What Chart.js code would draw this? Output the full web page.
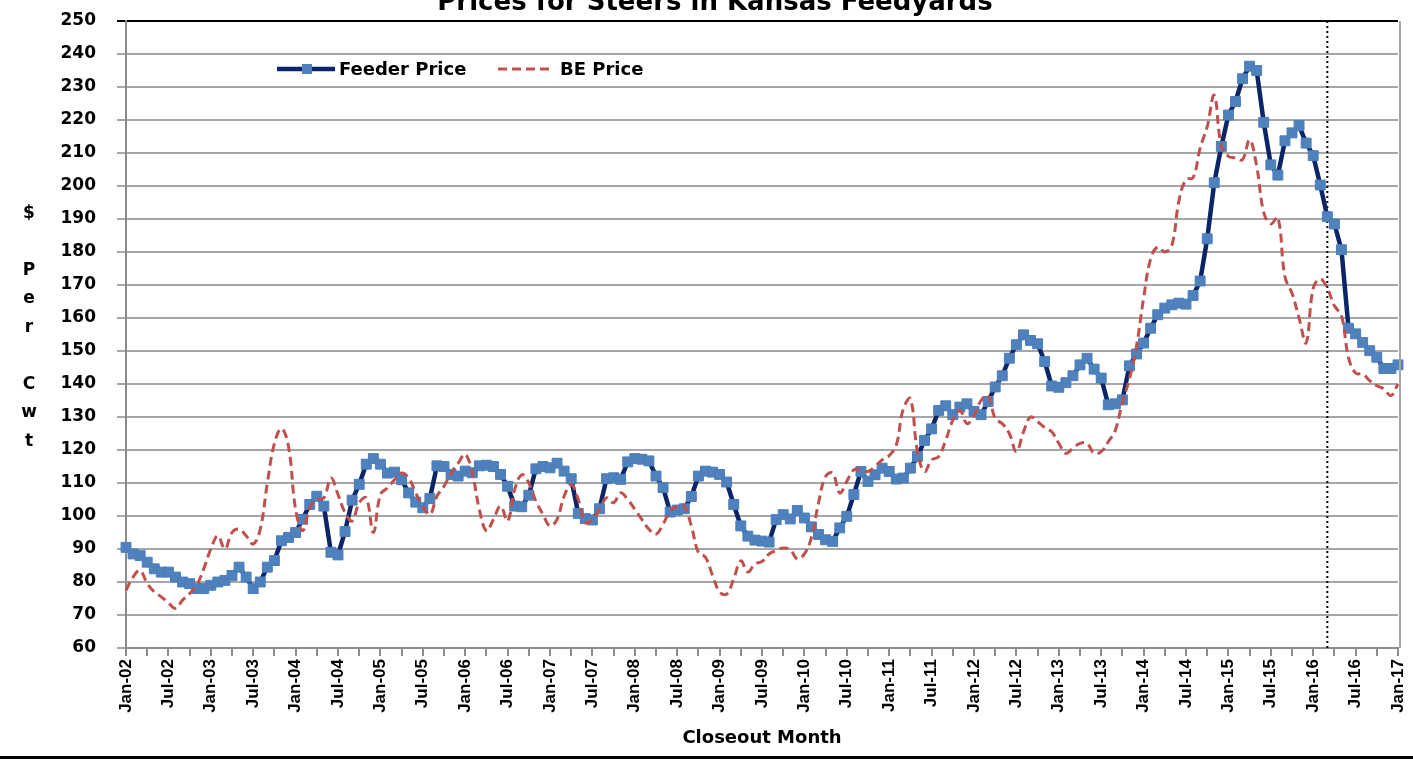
<!DOCTYPE html>
<html>
<head>
<meta charset="utf-8">
<title>Prices for Steers in Kansas Feedyards</title>
<script src="https://cdn.jsdelivr.net/npm/chart.js@4.4.0/dist/chart.umd.min.js"></script>
<style>
    html, body { margin: 0; padding: 0; background: #fff; }
    #wrap { width: 1413px; height: 761px; }
</style>
</head>
<body>
<div id="wrap"><canvas id="steers-chart" width="1413" height="761"></canvas></div>
<script>
// months on the x axis: Jan-02 .. Jan-17
const monthNames = ['Jan', 'Feb', 'Mar', 'Apr', 'May', 'Jun', 'Jul', 'Aug', 'Sep', 'Oct', 'Nov', 'Dec'];
const firstYear = 2002;

// Feeder price, $/cwt, one value per month
const feederPrice = [
    90.5, 88.5, 88, 86, 84, 83, 83, 81.5, 80, 79.5, 78, 78,                     // 2002
    79, 80, 80.5, 82, 84.5, 81.5, 78, 80, 84.5, 86.5, 92.5, 93.5,               // 2003
    95, 99, 103.5, 106, 103, 89, 88.2, 95.3, 104.8, 109.6, 115.7, 117.4,        // 2004
    115.7, 113, 113.3, 111, 107, 104.2, 102.5, 105.3, 115.2, 115, 112.6, 112.1, // 2005
    113.6, 113.1, 115.2, 115.4, 115, 112.6, 109, 103, 102.8, 106.3, 114.3, 115, // 2006
    114.6, 116, 113.6, 111.3, 100.8, 99.2, 98.8, 102.2, 111.3, 111.6, 111.1, 116.4, // 2007
    117.4, 117.2, 116.7, 112.1, 108.6, 101.2, 101.8, 102.2, 105.9, 112.1, 113.6, 113.3, // 2008
    112.6, 110.3, 103.5, 97, 93.9, 92.7, 92.4, 92.1, 98.9, 100.4, 99.1, 101.7,  // 2009
    99.4, 96.7, 94.4, 92.8, 92.3, 96.4, 99.9, 106.5, 113.5, 110.5, 112.5, 114.5, // 2010
    113.5, 111.2, 111.5, 114.5, 118, 122.9, 126.4, 132, 133.4, 130.7, 133, 134, // 2011
    131.7, 130.7, 134.7, 139.1, 142.5, 147.8, 151.9, 154.9, 153.2, 152.2, 146.8, 139.4, // 2012
    139, 140.4, 142.5, 145.8, 147.8, 144.5, 141.8, 133.7, 134, 135.2, 145.5, 149.1, // 2013
    152.4, 156.9, 161, 163, 164, 164.5, 164.2, 166.8, 171.2, 184, 201, 212,     // 2014
    221.5, 225.6, 232.5, 236.3, 235, 219.3, 206.4, 203.3, 213.7, 216.1, 218.3, 213, // 2015
    209.2, 200.3, 190.7, 188.5, 180.7, 156.9, 155.2, 152.6, 150.1, 148.1, 144.7, 144.7, // 2016
    145.8                                                                       // 2017
];

// breakeven price, $/cwt
const bePrice = [
    77.5, 81.5, 83.5, 79.5, 77, 75.5, 73.7, 72, 74.5, 76.5, 79, 84,             // 2002
    90, 94, 90, 95, 96, 94, 91.5, 96, 110, 122, 126.5, 121,                     // 2003
    102, 95.5, 102.5, 105, 105.5, 111.5, 106.5, 101, 98.5, 104, 105.5, 95,      // 2004
    106.5, 108.5, 111, 113, 111.5, 107, 103, 100.5, 106, 109, 113, 116,         // 2005
    118.7, 113, 102, 95.5, 99, 103, 98.5, 108, 112.5, 110, 104.5, 100.5,        // 2006
    97, 99, 106, 109.5, 105, 98, 99, 102, 105.5, 104, 107, 105,                 // 2007
    102, 99, 96, 94.5, 97.5, 101.5, 103, 103, 97, 89, 87.5, 82,                 // 2008
    77, 76.3, 81, 86.4, 83, 85.5, 86.2, 88.5, 89.5, 90.3, 89.8, 87,             // 2009
    88.5, 93.5, 104, 112, 113, 107, 110.5, 114, 114, 113.5, 115, 117,           // 2010
    118.3, 121.5, 132.5, 135.5, 119.5, 113.5, 117, 118, 123, 129, 132, 128,     // 2011
    130.5, 135, 136.5, 129.5, 128, 125, 119.5, 125.5, 130, 128.6, 126.8, 125.5, // 2012
    122, 119, 120.5, 122, 122, 119, 119.5, 122.5, 126, 134.5, 141.6, 151.5,     // 2013
    166, 178, 181.5, 180, 182, 195.5, 202, 202.5, 211.5, 218, 227.5, 212,       // 2014
    209, 208.5, 208, 214, 206, 192, 188.5, 190.5, 172.5, 167.5, 160, 152.5,     // 2015
    169, 171.8, 169, 163.7, 160.7, 148, 143.3, 143, 141, 139.5, 138.5, 136.5,   // 2016
    140                                                                         // 2017
];

const yMin = 60;
const yMax = 250;
const yStep = 10;
const markerMonth = 'Mar-16';   // dotted vertical line
const yTitleLetters = ['$', '', 'P', 'e', 'r', '', 'C', 'w', 't'];

// build Jan-02 style labels
const monthLabels = [];
for (let i = 0; i < feederPrice.length; i++) {
    let yy = String((firstYear + Math.floor(i / 12)) % 100).padStart(2, '0');
    monthLabels.push(monthNames[i % 12] + '-' + yy);
}

const boldFont = '"DejaVu Sans", Verdana, sans-serif';

// title, stacked y title, legend inside plot, dotted marker line, borders
const decorPlugin = {
    id: 'decor',
    beforeDatasetsDraw(chart) {
        const { ctx, chartArea } = chart;
        let x = chart.scales.x.getPixelForValue(monthLabels.indexOf(markerMonth));
        ctx.save();
        ctx.strokeStyle = '#000';
        ctx.lineWidth = 2;
        ctx.setLineDash([2, 3]);
        ctx.beginPath();
        ctx.moveTo(x, chartArea.top);
        ctx.lineTo(x, chartArea.bottom);
        ctx.stroke();
        ctx.restore();
    },
    afterDraw(chart) {
        const { ctx, chartArea } = chart;
        ctx.save();

        // right border of plot
        ctx.strokeStyle = '#a6a6a6';
        ctx.lineWidth = 2;
        ctx.beginPath();
        ctx.moveTo(chartArea.right + 2, chartArea.top);
        ctx.lineTo(chartArea.right + 2, chartArea.bottom);
        ctx.stroke();

        // chart title (cut off by the top edge, like the original)
        ctx.fillStyle = '#000';
        ctx.font = 'bold 26px ' + boldFont;
        ctx.textAlign = 'center';
        ctx.textBaseline = 'alphabetic';
        ctx.fillText('Prices for Steers in Kansas Feedyards', 715, 10);

        // y axis title, one letter per line
        ctx.font = 'bold 17px ' + boldFont;
        ctx.textBaseline = 'middle';
        let mid = (chartArea.top + chartArea.bottom) / 2 - 7;
        let lh = 28.5;
        yTitleLetters.forEach((ch, i) => {
            ctx.fillText(ch, 29, mid + (i - (yTitleLetters.length - 1) / 2) * lh);
        });

        // legend
        let ly = chartArea.top + 48;
        let lx = chartArea.left - 2;
        ctx.strokeStyle = '#0b2566';
        ctx.lineWidth = 4.5;
        ctx.beginPath();
        ctx.moveTo(lx + 153, ly);
        ctx.lineTo(lx + 211, ly);
        ctx.stroke();
        ctx.fillStyle = '#4f81bd';
        ctx.fillRect(lx + 178, ly - 5, 10, 10);

        ctx.strokeStyle = '#c0504d';
        ctx.lineWidth = 3;
        ctx.setLineDash([9, 5]);
        ctx.beginPath();
        ctx.moveTo(lx + 374, ly);
        ctx.lineTo(lx + 429, ly);
        ctx.stroke();
        ctx.setLineDash([]);

        ctx.fillStyle = '#000';
        ctx.font = 'bold 18px ' + boldFont;
        ctx.textAlign = 'left';
        ctx.fillText('Feeder Price', lx + 215, ly + 1);
        ctx.fillText('BE Price', lx + 436, ly + 1);

        // bottom frame line
        ctx.strokeStyle = '#000';
        ctx.lineWidth = 3;
        ctx.beginPath();
        ctx.moveTo(0, 757.5);
        ctx.lineTo(chart.width, 757.5);
        ctx.stroke();

        ctx.restore();
    }
};

const steersChart = new Chart(document.getElementById('steers-chart'), {
    type: 'line',
    data: {
        labels: monthLabels,
        datasets: [
            {
                label: 'Feeder Price',
                data: feederPrice,
                borderColor: '#0b2566',
                borderWidth: 4.5,
                tension: 0,
                pointStyle: 'rect',
                pointRadius: 7,
                pointBackgroundColor: '#4f81bd',
                pointBorderColor: '#4a7ebb',
                pointBorderWidth: 1,
                order: 1
            },
            {
                label: 'BE Price',
                data: bePrice,
                borderColor: '#c0504d',
                borderWidth: 3,
                borderDash: [9, 5],
                tension: 0.4,
                pointRadius: 0,
                order: 0
            }
        ]
    },
    options: {
        responsive: false,
        devicePixelRatio: 1,
        animation: false,
        events: [],
        layout: { padding: { top: 21, right: 15, left: 0, bottom: 0 } },
        plugins: {
            legend: { display: false },
            tooltip: { enabled: false }
        },
        scales: {
            x: {
                offset: false,
                grid: {
                    drawOnChartArea: false,
                    color: ctx => ctx.index % 3 === 0 ? '#8c8c8c' : 'rgba(0,0,0,0)',
                    lineWidth: 2,
                    tickLength: 8
                },
                border: { color: '#8c8c8c', width: 2 },
                ticks: {
                    autoSkip: false,
                    minRotation: 90,
                    maxRotation: 90,
                    padding: 3,
                    color: '#000',
                    font: { family: '"Liberation Sans", Arial, sans-serif', weight: 'bold', size: 17 },
                    callback: function (val, i) {
                        return i % 6 === 0 ? this.getLabelForValue(val) : '';
                    }
                },
                title: {
                    display: true,
                    text: 'Closeout Month',
                    color: '#000',
                    font: { family: boldFont, weight: 'bold', size: 18 },
                    padding: { top: 4, bottom: 12 }
                },
                // fixed plot box: 126..1398 x 21..648
                afterFit: scale => {
                    scale.height = 113;
                    scale.paddingLeft = 0;
                    scale.paddingRight = 0;
                }
            },
            y: {
                min: yMin,
                max: yMax,
                grid: {
                    color: ctx => ctx.tick && ctx.tick.value === yMax ? '#000' : '#a6a6a6',
                    lineWidth: 2,
                    tickLength: 9
                },
                border: { color: '#8c8c8c', width: 2 },
                ticks: {
                    stepSize: yStep,
                    padding: 21,
                    color: '#000',
                    font: { family: boldFont, weight: 'bold', size: 17 }
                },
                afterFit: scale => {
                    scale.width = 126;
                    scale.paddingTop = 0;
                    scale.paddingBottom = 0;
                }
            }
        }
    },
    plugins: [decorPlugin]
});
</script>
</body>
</html>
